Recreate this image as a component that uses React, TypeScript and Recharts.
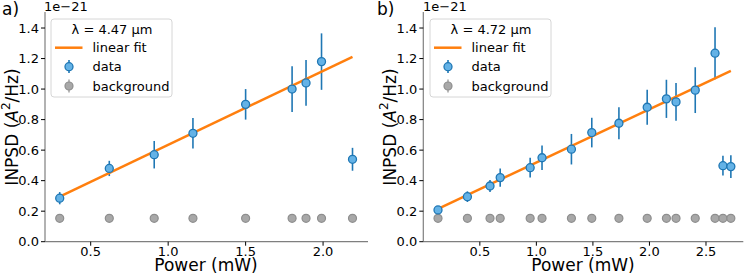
import React from "react";
import {
  ComposedChart,
  Scatter,
  XAxis,
  YAxis,
  ErrorBar,
} from "recharts";

// panel a) lambda = 4.47 um
const powerA = [0.3, 0.62, 0.91, 1.16, 1.5, 1.8, 1.89, 1.99, 2.19];
const inpsdA = [0.285, 0.48, 0.57, 0.71, 0.9, 1.0, 1.04, 1.18, 0.54];
const errA = [0.04, 0.05, 0.09, 0.1, 0.1, 0.15, 0.15, 0.185, 0.075];
const bgA = [0.153, 0.153, 0.153, 0.153, 0.153, 0.153, 0.153, 0.153, 0.153];
const fitXA = [0.3, 2.19];
const fitYA = [0.295, 1.211];

// panel b) lambda = 4.72 um
const powerB = [
  0.13, 0.39, 0.59, 0.68, 0.945, 1.05, 1.31, 1.49, 1.73, 1.98, 2.15, 2.235,
  2.405, 2.58, 2.65, 2.72,
];
const inpsdB = [
  0.208, 0.295, 0.365, 0.42, 0.485, 0.55, 0.606, 0.715, 0.776, 0.881, 0.936,
  0.916, 0.993, 1.235, 0.498, 0.492,
];
const errB = [
  0.025, 0.035, 0.04, 0.06, 0.065, 0.08, 0.1, 0.097, 0.105, 0.115, 0.125,
  0.123, 0.15, 0.17, 0.065, 0.075,
];
const bgB = [
  0.153, 0.153, 0.153, 0.153, 0.153, 0.153, 0.153, 0.153, 0.153, 0.153, 0.153,
  0.153, 0.153, 0.153, 0.153, 0.153,
];
const fitXB = [0.13, 2.72];
const fitYB = [0.215, 1.12];

const yTicks = [0, 0.2, 0.4, 0.6, 0.8, 1.0, 1.2, 1.4];
const xTicksA = [0.5, 1.0, 1.5, 2.0];
const xTicksB = [0.5, 1.0, 1.5, 2.0, 2.5];

const FONT = "'DejaVu Sans', sans-serif";
const BLUE = "#1f77b4";
const ORANGE = "#ff7f0e";
const SPINE = "#7f7f7f";

const zip2 = (xs: number[], ys: number[]) => xs.map((x, i) => ({ x, y: ys[i] }));
const zip3 = (xs: number[], ys: number[], es: number[]) =>
  xs.map((x, i) => ({ x, y: ys[i], err: es[i] }));

const DataDot = (props: any) => (
  <circle cx={props.cx} cy={props.cy} r={4} fill="#64b2e6" stroke={BLUE} strokeWidth={1.3} />
);
const BgDot = (props: any) => (
  <circle cx={props.cx} cy={props.cy} r={4} fill="#a8a8a8" stroke="#8e8e8e" strokeWidth={1.2} />
);
const NoDot = () => <g />;

interface PanelProps {
  data: { x: number; y: number; err: number }[];
  bg: { x: number; y: number }[];
  fit: { x: number; y: number }[];
  xDomain: [number, number];
  xTicks: number[];
  yAxisWidth: number;
  rightMargin: number;
}

function Panel({ data, bg, fit, xDomain, xTicks, yAxisWidth, rightMargin }: PanelProps) {
  const tick = { fill: "#000", fontSize: 13, fontFamily: FONT };
  return (
    <ComposedChart
      width={374}
      height={277}
      margin={{ top: 12, right: rightMargin, bottom: 0, left: 0 }}
    >
      <XAxis
        type="number"
        dataKey="x"
        domain={xDomain}
        ticks={xTicks}
        allowDataOverflow
        height={35.3}
        tick={tick}
        tickSize={4}
        tickMargin={1}
        tickFormatter={(v: number) => v.toFixed(1)}
        axisLine={{ stroke: SPINE, strokeWidth: 1.2 }}
        tickLine={{ stroke: "#000" }}
      />
      <XAxis
        xAxisId="top"
        orientation="top"
        type="number"
        dataKey="x"
        domain={xDomain}
        allowDataOverflow
        height={0}
        tick={false}
        tickLine={false}
        axisLine={{ stroke: SPINE, strokeWidth: 1.2 }}
      />
      <YAxis
        type="number"
        dataKey="y"
        domain={[0, 1.505]}
        ticks={yTicks}
        allowDataOverflow
        width={yAxisWidth}
        tick={tick}
        tickSize={4}
        tickMargin={2}
        tickFormatter={(v: number) => v.toFixed(1)}
        axisLine={{ stroke: SPINE, strokeWidth: 1.2 }}
        tickLine={{ stroke: "#000" }}
      />
      <YAxis
        yAxisId="right"
        orientation="right"
        type="number"
        domain={[0, 1.505]}
        width={0}
        tick={false}
        tickLine={false}
        axisLine={{ stroke: SPINE, strokeWidth: 1.2 }}
      />
      <Scatter data={bg} shape={BgDot} isAnimationActive={false} />
      <Scatter
        data={fit}
        shape={NoDot}
        line={{ stroke: ORANGE, strokeWidth: 2.5 }}
        isAnimationActive={false}
      />
      {/* error bars on their own layer so the markers sit on top */}
      <Scatter data={data} shape={NoDot} isAnimationActive={false}>
        <ErrorBar
          dataKey="err"
          direction="y"
          width={0}
          stroke={BLUE}
          strokeWidth={1.6}
          isAnimationActive={false}
        />
      </Scatter>
      <Scatter data={data} shape={DataDot} isAnimationActive={false} />
    </ComposedChart>
  );
}

function Legend({ x, title }: { x: number; title: string }) {
  // x = left edge of legend box
  const t = { fontFamily: FONT, fontSize: 13, fill: "#000" };
  return (
    <g>
      <rect x={x} y={19} width={121} height={78} rx={3} fill="#fff" fillOpacity={0.8} stroke="#d6d6d6" />
      <text x={x + 61} y={29.5} textAnchor="middle" dominantBaseline="central" {...t}>
        {title}
      </text>
      <line x1={x + 4} x2={x + 31.5} y1={47.7} y2={47.7} stroke={ORANGE} strokeWidth={2.5} />
      <text x={x + 41.5} y={47.7} dominantBaseline="central" {...t}>linear fit</text>
      <line x1={x + 18} x2={x + 18} y1={60} y2={73} stroke={BLUE} strokeWidth={1.6} />
      <circle cx={x + 18} cy={66.7} r={4} fill="#64b2e6" stroke={BLUE} strokeWidth={1.3} />
      <text x={x + 41.5} y={66.7} dominantBaseline="central" {...t}>data</text>
      <line x1={x + 18} x2={x + 18} y1={79.5} y2={92.5} stroke="#a8a8a8" strokeWidth={1.6} />
      <circle cx={x + 18} cy={86} r={4} fill="#a8a8a8" stroke="#8e8e8e" strokeWidth={1.2} />
      <text x={x + 41.5} y={86} dominantBaseline="central" {...t}>background</text>
    </g>
  );
}

function YLabel({ cx }: { cx: number }) {
  return (
    <text
      transform={`translate(${cx},127) rotate(-90)`}
      textAnchor="middle"
      dominantBaseline="central"
      fontFamily={FONT}
      fontSize={17}
      fill="#000"
    >
      INPSD (<tspan fontStyle="italic">A</tspan>
      <tspan dy={-6} fontSize={12}>2</tspan>
      <tspan dy={6}>/Hz)</tspan>
    </text>
  );
}

export default function App() {
  const dataA = zip3(powerA, inpsdA, errA);
  const bgDataA = zip2(powerA, bgA);
  const fitA = zip2(fitXA, fitYA);
  const dataB = zip3(powerB, inpsdB, errB);
  const bgDataB = zip2(powerB, bgB);
  const fitB = zip2(fitXB, fitYB);

  return (
    <div style={{ position: "absolute", left: 0, top: 0, width: 748, height: 277, background: "#fff" }}>
      <div style={{ position: "absolute", left: 0, top: 0 }}>
        <Panel
          data={dataA}
          bg={bgDataA}
          fit={fitA}
          xDomain={[0.205, 2.29]}
          xTicks={xTicksA}
          yAxisWidth={45}
          rightMargin={6}
        />
      </div>
      <div style={{ position: "absolute", left: 374, top: 0 }}>
        <Panel
          data={dataB}
          bg={bgDataB}
          fit={fitB}
          xDomain={[0.0, 2.83]}
          xTicks={xTicksB}
          yAxisWidth={49.3}
          rightMargin={4.7}
        />
      </div>
      <svg width={748} height={277} style={{ position: "absolute", left: 0, top: 0, pointerEvents: "none" }}>
        <text x={2} y={15} fontFamily={FONT} fontSize={17} fill="#000">a)</text>
        <text x={377} y={15} fontFamily={FONT} fontSize={17} fill="#000">b)</text>
        <text x={44} y={11} fontFamily={FONT} fontSize={13} fill="#000">1e−21</text>
        <text x={423} y={11} fontFamily={FONT} fontSize={13} fill="#000">1e−21</text>
        <YLabel cx={12} />
        <YLabel cx={390} />
        <text x={206} y={271} textAnchor="middle" fontFamily={FONT} fontSize={17} fill="#000">
          Power (mW)
        </text>
        <text x={583} y={271} textAnchor="middle" fontFamily={FONT} fontSize={17} fill="#000">
          Power (mW)
        </text>
        <Legend x={51} title="λ = 4.47 µm" />
        <Legend x={430} title="λ = 4.72 µm" />
      </svg>
    </div>
  );
}
